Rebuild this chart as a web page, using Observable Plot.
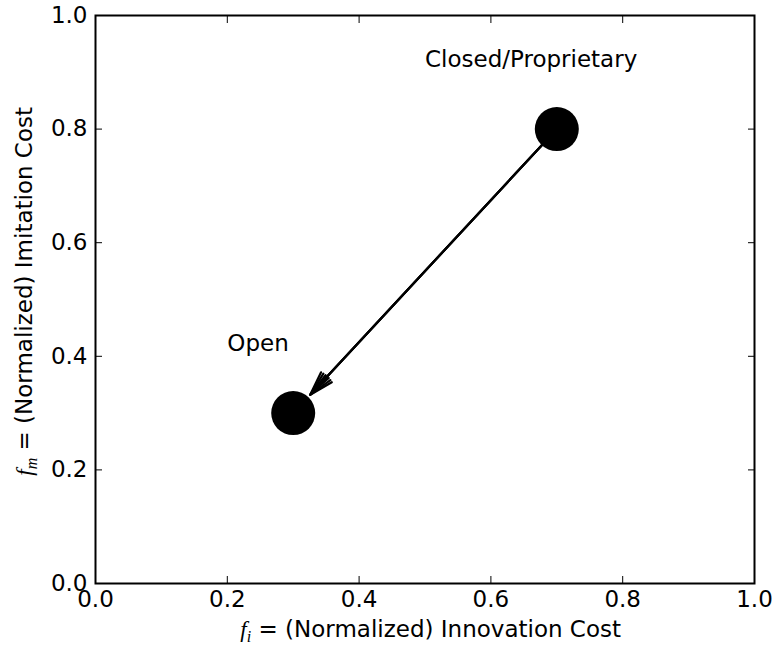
<!DOCTYPE html>
<html><head><meta charset="utf-8">
<script src="https://cdn.jsdelivr.net/npm/d3@7"></script>
<script src="https://cdn.jsdelivr.net/npm/@observablehq/plot@0.6"></script>
<style>body{margin:0;background:#fff}</style>
</head><body><div id="chart"></div>
<script>
const tickValues = [0, 0.2, 0.4, 0.6, 0.8, 1.0];
const stateNames = ["Closed/Proprietary", "Open"];
const innovationCost = [0.7, 0.3];
const imitationCost = [0.8, 0.3];
const labelNames = ["Closed/Proprietary", "Open"];
const labelX = [0.5, 0.2];
const labelY = [0.9, 0.4];

const points = stateNames.map((n, i) => ({name: n, x: innovationCost[i], y: imitationCost[i]}));
const labels = labelNames.map((n, i) => ({text: n, x: labelX[i], y: labelY[i]}));
const move = [{x1: points[0].x, y1: points[0].y, x2: points[1].x, y2: points[1].y}];
const fmt = d3.format(".1f");

const arrowOpts = {x1: "x1", y1: "y1", x2: "x2", y2: "y2", insetStart: 21, insetEnd: 25, headLength: 17, stroke: "black", strokeWidth: 2.2};

const svg = Plot.plot({
  width: 773, height: 646,
  marginLeft: 95, marginRight: 19, marginTop: 15, marginBottom: 63,
  style: {fontFamily: "DejaVu Sans", fontSize: "23px", background: "white", color: "black"},
  x: {domain: [0, 1]},
  y: {domain: [0, 1]},
  marks: [
    Plot.axisX({ticks: tickValues, tickFormat: fmt, tickSize: -7, tickPadding: 14, label: null, anchor: "bottom"}),
    Plot.axisX({ticks: tickValues, tickFormat: () => "", tickSize: -7, label: null, anchor: "top"}),
    Plot.axisY({ticks: tickValues, tickFormat: fmt, tickSize: -7, tickPadding: 15, label: null, anchor: "left"}),
    Plot.axisY({ticks: tickValues, tickFormat: () => "", tickSize: -7, label: null, anchor: "right"}),
    Plot.frame({stroke: "black", strokeWidth: 2}),
    Plot.arrow(move, {...arrowOpts, headAngle: 34}),
    Plot.arrow(move, {...arrowOpts, headAngle: 22}),
    Plot.arrow(move, {...arrowOpts, headAngle: 10}),
    Plot.dot(points, {x: "x", y: "y", r: 22, fill: "black"}),
    Plot.text(labels, {x: "x", y: "y", text: "text", textAnchor: "start", lineAnchor: "bottom", dy: -5, fontSize: 23, fill: "black"})
  ]
});

const s = d3.select(svg);
const xl = s.append("text").attr("x", 621).attr("y", 637).attr("text-anchor", "end")
  .attr("font-size", 23).attr("fill", "black").attr("font-family", "DejaVu Sans");
xl.append("tspan").attr("font-family", "Liberation Serif").attr("font-style", "italic").text("f");
xl.append("tspan").attr("font-family", "Liberation Serif").attr("font-style", "italic").attr("font-size", 16).attr("dy", 5).text("i");
xl.append("tspan").attr("dy", -5).text(" = (Normalized) Innovation Cost");

const yl = s.append("text").attr("transform", "translate(32,107) rotate(-90)").attr("text-anchor", "end")
  .attr("font-size", 23).attr("fill", "black").attr("font-family", "DejaVu Sans");
yl.append("tspan").attr("font-family", "Liberation Serif").attr("font-style", "italic").text("f");
yl.append("tspan").attr("font-family", "Liberation Serif").attr("font-style", "italic").attr("font-size", 16).attr("dy", 5).text("m");
yl.append("tspan").attr("dy", -5).text(" = (Normalized) Imitation Cost");

document.getElementById("chart").appendChild(svg);
</script>
</body></html>
